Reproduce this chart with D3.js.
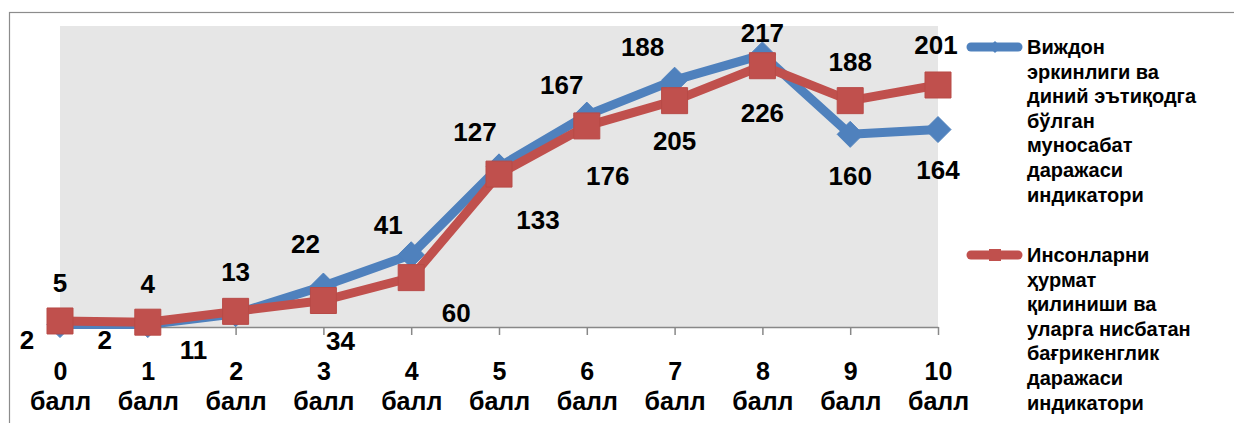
<!DOCTYPE html>
<html>
<head>
<meta charset="utf-8">
<script src="https://cdn.jsdelivr.net/npm/d3@7"></script>
<style>
  html, body { margin: 0; padding: 0; background: #fff; }
  text { font-family: Arial, 'Liberation Sans', sans-serif; font-weight: bold; fill: #000; }
</style>
</head>
<body>
<svg id="chart" width="1234" height="423"></svg>
<script>
// categories and values
const categories = ['0', '1', '2', '3', '4', '5', '6', '7', '8', '9', '10']
const unitLabel = 'балл'

const blueName = ['Виждон', 'эркинлиги ва', 'диний эътиқодга', 'бўлган', 'муносабат', 'даражаси', 'индикатори']
const redName  = ['Инсонларни', 'ҳурмат', 'қилиниши ва', 'уларга нисбатан', 'бағрикенглик', 'даражаси', 'индикатори']

const blueValues = [2, 2, 11, 34, 60, 133, 176, 205, 226, 160, 164]
const redValues  = [5, 4, 13, 22, 41, 127, 167, 188, 217, 188, 201]

// hand-placed data label offsets (dx, dy from the marker), as in the original
const blueLabelOffsets = [[-33, 15], [-43, 15], [-42, 36], [17, 54], [45, 58], [39, 53], [21, 60], [0, 60], [0, 58], [0, 41], [0, 40]]
const redLabelOffsets  = [[0, -38], [0, -39], [0, -40], [-18, -57], [-23, -53], [-24, -43], [-25, -41], [-32, -54], [0, -33], [0, -39], [-2, -40]]

const BLUE = '#4f81bd'
const RED  = '#c0504d'

const svg = d3.select('#chart')

// outer chart border
svg.append('rect')
  .attr('x', 9.5).attr('y', 12.5)
  .attr('width', 1300).attr('height', 500)
  .attr('fill', '#fff')
  .attr('stroke', '#8c8c8c')
  .attr('stroke-width', 1.2)

const plot = { left: 60, right: 938, top: 26, bottom: 327 }

const x = d3.scalePoint().domain(categories).range([plot.left, plot.right])
const y = d3.scaleLinear().domain([0, 250]).range([plot.bottom, plot.top])

// plot area
svg.append('rect')
  .attr('x', plot.left).attr('y', plot.top)
  .attr('width', plot.right - plot.left).attr('height', plot.bottom - plot.top)
  .attr('fill', '#e6e6e6')

// x axis
const axis = svg.append('g')
  .attr('transform', `translate(0,${plot.bottom})`)
  .call(d3.axisBottom(x).tickSize(8).tickSizeOuter(0).tickPadding(0))

axis.select('.domain').attr('stroke', '#888').attr('stroke-width', 1.5)
axis.selectAll('.tick line').attr('stroke', '#888').attr('stroke-width', 1.5)
axis.selectAll('.tick text').remove()
axis.selectAll('.tick').each(function (d) {
  const t = d3.select(this).append('text')
    .attr('text-anchor', 'middle')
    .attr('font-size', '25px')
  t.append('tspan').attr('x', 0).attr('y', 53).text(d)
  t.append('tspan').attr('x', 0).attr('y', 83).text(unitLabel)
})

const line = d3.line()
  .x((d, i) => x(categories[i]))
  .y(d => y(d))

function drawSeries(values, color, marker) {
  const g = svg.append('g')
  g.append('path')
    .datum(values)
    .attr('d', line)
    .attr('fill', 'none')
    .attr('stroke', color)
    .attr('stroke-width', 9)
    .attr('stroke-linejoin', 'round')
    .attr('stroke-linecap', 'round')

  g.selectAll('.m')
    .data(values)
    .enter()
    .append('path')
    .attr('transform', (d, i) => `translate(${x(categories[i])},${y(d)})`)
    .attr('d', marker === 'square'
      ? d3.symbol(d3.symbolSquare, 26 * 26)()
      : 'M0,-13L13,0L0,13L-13,0Z')
    .attr('fill', color)
    .attr('stroke', marker === 'square' ? '#b84a47' : color)
    .attr('stroke-width', 1)
}

drawSeries(blueValues, BLUE, 'diamond')
drawSeries(redValues, RED, 'square')

// data labels
function drawLabels(values, offsets) {
  svg.append('g')
    .selectAll('text')
    .data(values)
    .enter()
    .append('text')
    .attr('x', (d, i) => x(categories[i]) + offsets[i][0])
    .attr('y', (d, i) => y(d) + offsets[i][1] + 9.5)
    .attr('text-anchor', 'middle')
    .attr('font-size', '26px')
    .text(d => d)
}

drawLabels(blueValues, blueLabelOffsets)
drawLabels(redValues, redLabelOffsets)

// legend
function drawLegend(lines, color, marker, top) {
  const g = svg.append('g')
  g.append('line')
    .attr('x1', 971).attr('x2', 1018)
    .attr('y1', top).attr('y2', top)
    .attr('stroke', color)
    .attr('stroke-width', 9)
    .attr('stroke-linecap', 'round')
  g.append('path')
    .attr('transform', `translate(995,${top})`)
    .attr('d', marker === 'square'
      ? d3.symbol(d3.symbolSquare, 12 * 12)()
      : 'M0,-6L6,0L0,6L-6,0Z')
    .attr('fill', color)
  const t = g.append('text').attr('font-size', '20px')
  lines.forEach((s, i) => {
    t.append('tspan')
      .attr('x', 1027)
      .attr('y', top + 7 + i * 24.6)
      .text(s)
  })
}

drawLegend(blueName, BLUE, 'diamond', 47)
drawLegend(redName, RED, 'square', 255)
</script>
</body>
</html>
